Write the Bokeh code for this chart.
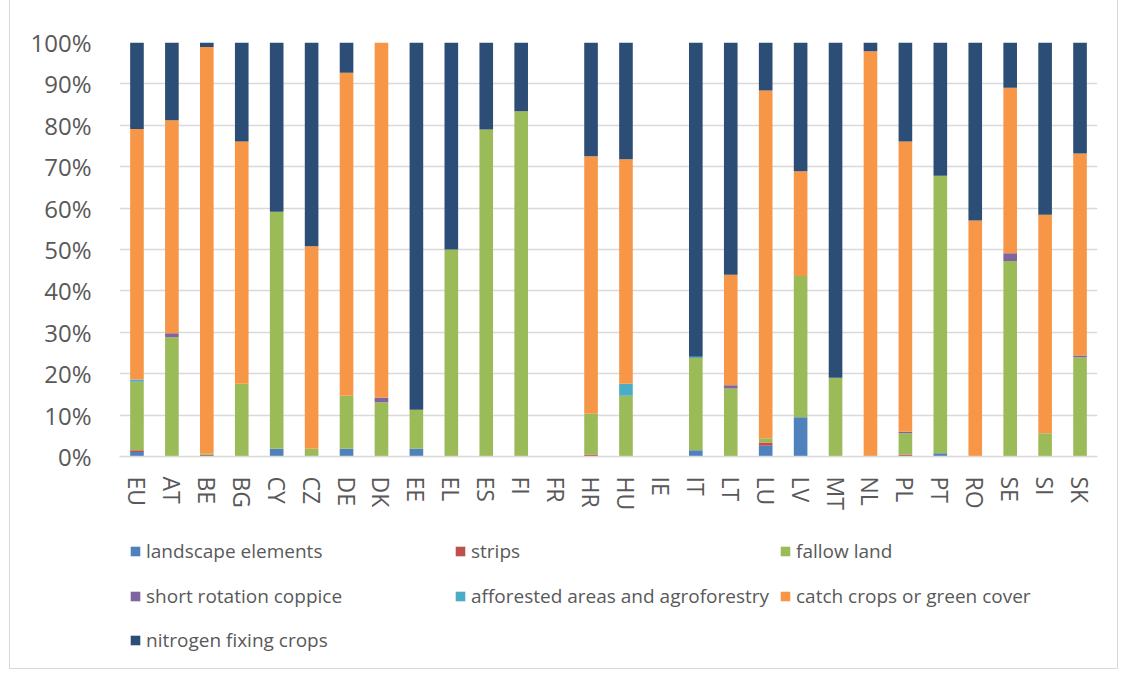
from bokeh.plotting import figure
from bokeh.models import (ColumnDataSource, FactorRange, Range1d, FixedTicker,
                          NumeralTickFormatter, Legend, LegendItem)
from bokeh.layouts import column
from bokeh.embed import file_html
from bokeh.resources import INLINE

countries = ["EU", "AT", "BE", "BG", "CY", "CZ", "DE", "DK", "EE", "EL", "ES", "FI", "FR", "HR",
             "HU", "IE", "IT", "LT", "LU", "LV", "MT", "NL", "PL", "PT", "RO", "SE", "SI", "SK"]

landscape_elements = [1.1, 0, 0, 0, 1.9, 0, 1.9, 0, 1.9, 0, 0, 0, 0, 0,
                      0, 0, 1.5, 0, 2.6, 9.5, 0, 0, 0, 0.8, 0, 0, 0, 0]
strips = [0.4, 0, 0.4, 0, 0, 0, 0, 0, 0, 0, 0, 0, 0, 0.5,
          0, 0, 0, 0, 0.8, 0, 0, 0, 0.5, 0, 0, 0, 0, 0]
fallow_land = [16.5, 28.8, 0.4, 17.6, 57.2, 1.9, 12.8, 13.1, 9.4, 50.0, 79.0, 83.4, 0, 9.8,
               14.7, 0, 22.3, 16.4, 1.0, 34.1, 19.0, 0, 5.1, 67.0, 0, 47.2, 5.6, 24.0]
short_rotation_coppice = [0.1, 1.0, 0, 0, 0, 0, 0, 1.1, 0, 0, 0, 0, 0, 0,
                          0, 0, 0, 0.8, 0, 0, 0, 0, 0.4, 0, 0, 1.9, 0, 0.4]
afforested_agroforestry = [0.5, 0, 0, 0, 0, 0, 0, 0, 0, 0, 0, 0, 0, 0,
                           2.9, 0, 0.3, 0, 0, 0, 0, 0, 0, 0, 0, 0, 0, 0]
catch_crops = [60.5, 51.4, 98.1, 58.5, 0, 48.9, 78.0, 85.8, 0, 0, 0, 0, 0, 62.2,
               54.2, 0, 0, 26.7, 84.0, 25.3, 0, 97.9, 70.1, 0, 57.0, 40.0, 52.8, 48.8]
nitrogen_fixing = [20.9, 18.8, 1.1, 23.9, 40.9, 49.2, 7.3, 0, 88.7, 50.0, 21.0, 16.6, 0, 27.5,
                   28.2, 0, 75.9, 56.1, 11.6, 31.1, 81.0, 2.1, 23.9, 32.2, 43.0, 10.9, 41.6, 26.8]

series_names = ["landscape elements", "strips", "fallow land", "short rotation coppice",
                "afforested areas and agroforestry", "catch crops or green cover",
                "nitrogen fixing crops"]
series_values = [landscape_elements, strips, fallow_land, short_rotation_coppice,
                 afforested_agroforestry, catch_crops, nitrogen_fixing]
colors = ["#4F81BD", "#C0504D", "#9BBB59", "#8064A2", "#4BACC6", "#F79646", "#2C4D75"]
y_ticks = [0, 0.1, 0.2, 0.3, 0.4, 0.5, 0.6, 0.7, 0.8, 0.9, 1.0]

keys = ["s%d" % i for i in range(len(series_names))]
data = {"country": countries}
for k, vals in zip(keys, series_values):
    data[k] = [v / 100.0 for v in vals]
source = ColumnDataSource(data)

FONT = "Open Sans"
TXT = "#595959"
W = 1107

p = figure(x_range=FactorRange(*countries, range_padding=0), y_range=Range1d(0, 1),
           width=W, height=520, output_backend="svg", toolbar_location=None,
           min_border_left=109, min_border_right=20, min_border_top=42, min_border_bottom=64)
p.outline_line_color = None

p.vbar_stack(keys, x="country", width=0.39, source=source, color=colors, line_color=None)

p.yaxis.ticker = FixedTicker(ticks=y_ticks)
p.yaxis.formatter = NumeralTickFormatter(format="0%")
p.yaxis.axis_line_color = None
p.yaxis.major_tick_line_color = None
p.yaxis.minor_tick_line_color = None
p.yaxis.major_label_standoff = 22
p.yaxis.major_label_text_font = FONT
p.yaxis.major_label_text_font_size = "24px"
p.yaxis.major_label_text_color = TXT

p.xaxis.axis_line_color = "#d9d9d9"
p.xaxis.axis_line_width = 1.5
p.xaxis.major_tick_line_color = None
p.xaxis.minor_tick_line_color = None
p.xaxis.major_label_orientation = "vertical"
p.xaxis.major_label_standoff = 14
p.xaxis.major_label_text_font = FONT
p.xaxis.major_label_text_font_size = "23px"
p.xaxis.major_label_text_color = TXT

p.xgrid.grid_line_color = None
p.ygrid.grid_line_color = "#d9d9d9"
p.ygrid.grid_line_width = 1.5
p.ygrid.ticker = FixedTicker(ticks=y_ticks)

# legend panel: same stacked series, with a y range above the data so only the legend shows
lg = figure(x_range=FactorRange(*countries, range_padding=0), y_range=Range1d(2, 3),
            width=W, height=148, output_backend="svg", toolbar_location=None,
            min_border_left=109, min_border_right=0, min_border_top=0, min_border_bottom=0)
lg.axis.visible = False
lg.grid.visible = False
lg.outline_line_color = None
leg_renderers = lg.vbar_stack(keys, x="country", width=0.39, source=source,
                              color=colors, line_color=None)

# offsets from the left edge of the plotting frame
layout_pos = [(10, 0), (335, 0), (660, 0), (10, 1), (335, 1), (660, 1), (10, 2)]
row_centers = [117, 72, 28]
for (x, row), name, r in zip(layout_pos, series_names, leg_renderers):
    leg = Legend(items=[LegendItem(label=name, renderers=[r])],
                 location=(x, row_centers[row] - 13),
                 orientation="horizontal", padding=0, margin=0, spacing=0,
                 glyph_width=12, glyph_height=12, label_standoff=5,
                 label_text_font=FONT, label_text_font_size="19px",
                 label_text_color=TXT, border_line_color=None,
                 background_fill_alpha=0)
    lg.add_layout(leg, "center")

layout = column(p, lg, styles={"margin-left": "9px",
                               "border-left": "1px solid #d9d9d9",
                               "border-right": "1px solid #d9d9d9",
                               "border-bottom": "1px solid #d9d9d9"})

open("out.html", "w").write(file_html(layout, INLINE))
